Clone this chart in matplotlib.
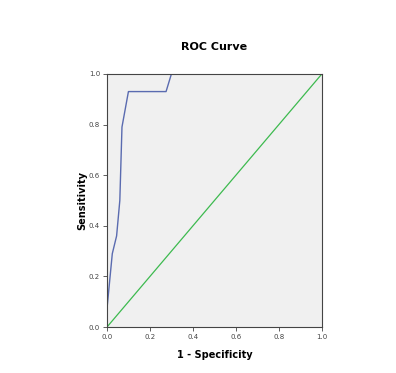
import matplotlib
matplotlib.use('Agg')
from matplotlib import pyplot

# ROC curve points
fpr = [0.0, 0.0, 0.025, 0.045, 0.06, 0.07, 0.10, 0.275, 0.30, 1.0]
tpr = [0.0, 0.07, 0.29, 0.36, 0.50, 0.79, 0.93, 0.93, 1.0, 1.0]
ref_x = [0.0, 1.0]
ref_y = [0.0, 1.0]
ticks = [0.0, 0.2, 0.4, 0.6, 0.8, 1.0]

pyplot.rc('font', family='DejaVu Sans')
fig = pyplot.figure(figsize=(3.96, 3.73), dpi=100)
ax = fig.add_axes([0.270, 0.123, 0.543, 0.679])
ax.set_facecolor('#f0f0f0')
ax.plot(ref_x, ref_y, color='#3dba4f', linewidth=0.9)
ax.plot(fpr, tpr, color='#5a6bb0', linewidth=1.0)
ax.set_xlim(0.0, 1.0)
ax.set_ylim(0.0, 1.0)
ax.set_xticks(ticks)
ax.set_yticks(ticks)
ax.set_xticklabels(['%.1f' % t for t in ticks])
ax.set_yticklabels(['%.1f' % t for t in ticks])
ax.tick_params(labelsize=5, colors='#444444', length=3, width=0.6, pad=2)
for s in ax.spines.values():
    s.set_color('#444444')
    s.set_linewidth(0.8)
ax.set_xlabel('1 - Specificity', fontsize=7, fontweight='bold', labelpad=7)
ax.set_ylabel('Sensitivity', fontsize=7, fontweight='bold', labelpad=1)
fig.text(0.54, 0.875, 'ROC Curve', ha='center', va='center', fontsize=8, fontweight='bold')

fig.savefig('out.png', dpi=100)
